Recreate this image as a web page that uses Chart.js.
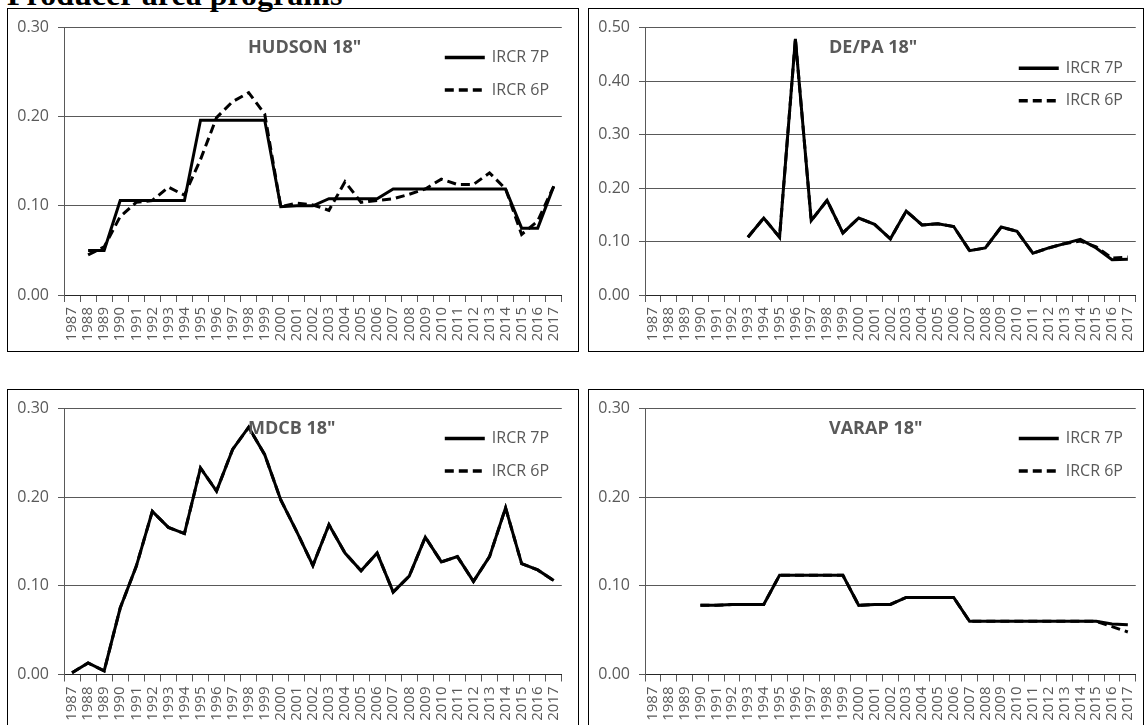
<!DOCTYPE html>
<html>
<head>
<meta charset="utf-8">
<script src="https://cdn.jsdelivr.net/npm/chart.js@4.4.1/dist/chart.umd.min.js"></script>
<style>
  html, body { margin: 0; padding: 0; background: #fff; overflow: hidden; }
  body { width: 1145px; height: 725px; position: relative; }
  .box { position: absolute; border: 1px solid #000; box-sizing: border-box; }
  canvas { position: absolute; }
  #pageTitle {
    position: absolute; left: 7px; top: -22px; margin: 0;
    font: bold 32px "Liberation Serif", serif; line-height: 32px; white-space: nowrap;
  }
</style>
</head>
<body>
<h1 id="pageTitle">Producer area programs</h1>
<div class="box" style="left:7px;top:8px;width:572px;height:344px"></div>
<div class="box" style="left:588px;top:8px;width:556px;height:344px"></div>
<div class="box" style="left:7px;top:389px;width:572px;height:345px"></div>
<div class="box" style="left:588px;top:389px;width:556px;height:345px"></div>
<canvas id="hudson" style="left:8px;top:9px" width="569" height="341"></canvas>
<canvas id="depa" style="left:589px;top:9px" width="562" height="341"></canvas>
<canvas id="mdcb" style="left:8px;top:390px" width="569" height="335"></canvas>
<canvas id="varap" style="left:589px;top:390px" width="562" height="335"></canvas>
<script>
// years on the x axis
var years = ['1987','1988','1989','1990','1991','1992','1993','1994','1995','1996','1997',
  '1998','1999','2000','2001','2002','2003','2004','2005','2006','2007','2008','2009',
  '2010','2011','2012','2013','2014','2015','2016','2017'];

var seriesNames = ['IRCR 7P', 'IRCR 6P'];

// HUDSON 18"
var hudson7P = [null, 0.050, 0.050, 0.106, 0.106, 0.106, 0.106, 0.106, 0.196, 0.196, 0.196,
  0.196, 0.196, 0.099, 0.100, 0.100, 0.108, 0.108, 0.108, 0.108, 0.119, 0.119, 0.119,
  0.119, 0.119, 0.119, 0.119, 0.119, 0.075, 0.075, 0.122];
var hudson6P = [null, 0.045, 0.054, 0.088, 0.104, 0.106, 0.121, 0.112, 0.152, 0.199, 0.217,
  0.227, 0.203, 0.099, 0.103, 0.101, 0.095, 0.127, 0.104, 0.106, 0.108, 0.113, 0.119,
  0.130, 0.124, 0.124, 0.137, 0.119, 0.068, 0.083, 0.122];

// DE/PA 18"
var depa7P = [null, null, null, null, null, null, 0.108, 0.144, 0.108, 0.479, 0.139,
  0.177, 0.116, 0.144, 0.132, 0.105, 0.157, 0.131, 0.133, 0.128, 0.083, 0.088, 0.127,
  0.119, 0.078, 0.088, 0.096, 0.104, 0.088, 0.066, 0.067];
var depa6P = [null, null, null, null, null, null, 0.108, 0.144, 0.108, 0.479, 0.139,
  0.177, 0.116, 0.144, 0.132, 0.105, 0.157, 0.131, 0.133, 0.128, 0.083, 0.088, 0.127,
  0.119, 0.078, 0.088, 0.096, 0.101, 0.090, 0.069, 0.071];

// MDCB 18"
var mdcb7P = [0.002, 0.013, 0.004, 0.075, 0.122, 0.184, 0.166, 0.159, 0.233, 0.207, 0.254,
  0.279, 0.248, 0.197, 0.161, 0.123, 0.169, 0.137, 0.117, 0.137, 0.093, 0.111, 0.155,
  0.127, 0.133, 0.105, 0.133, 0.188, 0.125, 0.118, 0.106];
var mdcb6P = [0.002, 0.013, 0.004, 0.075, 0.122, 0.184, 0.166, 0.159, 0.233, 0.207, 0.254,
  0.279, 0.248, 0.197, 0.161, 0.123, 0.169, 0.137, 0.117, 0.137, 0.093, 0.111, 0.155,
  0.127, 0.133, 0.105, 0.133, 0.188, 0.125, 0.118, 0.106];

// VARAP 18"
var varap7P = [null, null, null, 0.078, 0.078, 0.079, 0.079, 0.079, 0.112, 0.112, 0.112,
  0.112, 0.112, 0.078, 0.079, 0.079, 0.087, 0.087, 0.087, 0.087, 0.060, 0.060, 0.060,
  0.060, 0.060, 0.060, 0.060, 0.060, 0.060, 0.057, 0.056];
var varap6P = [null, null, null, 0.078, 0.078, 0.079, 0.079, 0.079, 0.112, 0.112, 0.112,
  0.112, 0.112, 0.078, 0.079, 0.079, 0.087, 0.087, 0.087, 0.087, 0.060, 0.060, 0.060,
  0.060, 0.060, 0.060, 0.060, 0.060, 0.060, 0.054, 0.048];

var grey = '#595959';

// panel title + legend drawn inside the plot area, like the excel charts
var panelText = {
  id: 'panelText',
  afterDraw: function(chart, args, opts) {
    var ctx = chart.ctx, a = chart.chartArea;
    ctx.save();
    ctx.fillStyle = grey;
    ctx.font = 'bold 18px "Open Sans"';
    ctx.textAlign = 'left';
    ctx.textBaseline = 'alphabetic';
    ctx.fillText(opts.title, a.left + 184, a.top + 25.5);
    chart.data.datasets.forEach(function(ds, i) {
      var y = a.top + opts.legendTop + i * 32.5;
      ctx.beginPath();
      ctx.setLineDash(ds.borderDash || []);
      ctx.lineWidth = 3.5;
      ctx.strokeStyle = '#000';
      ctx.moveTo(a.right - 117, y);
      ctx.lineTo(a.right - 77, y);
      ctx.stroke();
      ctx.setLineDash([]);
      ctx.font = '16px "Open Sans"';
      ctx.textBaseline = 'middle';
      ctx.fillText(ds.label, a.right - 70, y);
    });
    ctx.restore();
  }
};

function makePanel(id, title, d7, d6, yMax, plotTop, plotBottom, rightPad, legendTop) {
  var cv = document.getElementById(id);
  return new Chart(cv, {
    type: 'line',
    data: {
      labels: years,
      datasets: [{
        label: seriesNames[0],
        data: d7,
        borderColor: '#000',
        borderWidth: 3,
        pointRadius: 0,
        tension: 0,
        fill: false
      }, {
        label: seriesNames[1],
        data: d6,
        borderColor: '#000',
        borderWidth: 3,
        borderDash: [9, 5],
        pointRadius: 0,
        tension: 0,
        fill: false
      }]
    },
    options: {
      responsive: false,
      animation: false,
      events: [],
      layout: { padding: { top: plotTop, right: rightPad, left: 0, bottom: 0 } },
      plugins: {
        legend: { display: false },
        title: { display: false },
        tooltip: { enabled: false },
        panelText: { title: title, legendTop: legendTop }
      },
      scales: {
        x: {
          offset: true,
          grid: { offset: true, drawOnChartArea: false, color: grey, tickLength: 7 },
          border: { color: '#262626', width: 1 },
          ticks: {
            autoSkip: false, maxRotation: 90, minRotation: 90, padding: 5,
            color: grey, font: { family: 'Open Sans', size: 15 }
          },
          afterFit: function(s) { s.height = cv.height - plotBottom; }
        },
        y: {
          min: 0, max: yMax,
          grid: { color: grey, tickLength: 6 },
          border: { color: grey, width: 1 },
          ticks: {
            stepSize: 0.1, padding: 9, color: grey,
            font: { family: 'Open Sans', size: 16 },
            callback: function(v) { return v.toFixed(2); }
          },
          afterFit: function(s) { s.width = 56; }
        }
      }
    },
    plugins: [panelText]
  });
}

makePanel('hudson', 'HUDSON 18"', hudson7P, hudson6P, 0.3, 18, 286, 15, 30);
makePanel('depa', 'DE/PA 18"', depa7P, depa6P, 0.5, 18, 286, 9.5, 40.7);
makePanel('mdcb', 'MDCB 18"', mdcb7P, mdcb6P, 0.3, 18.3, 284.5, 15, 30);
makePanel('varap', 'VARAP 18"', varap7P, varap6P, 0.3, 18.3, 284.5, 9.5, 30);
</script>
</body>
</html>
